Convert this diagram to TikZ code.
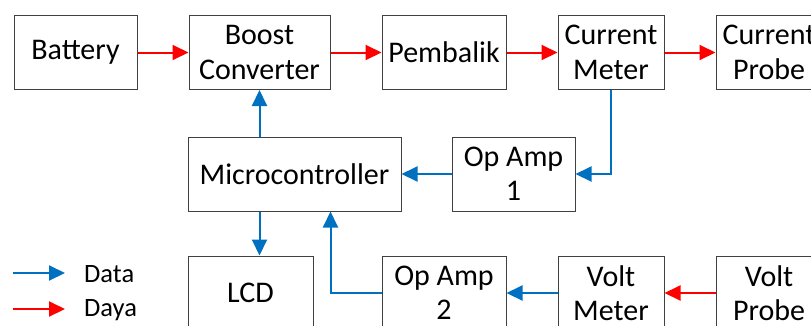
\documentclass[tikz,border=0pt]{standalone}
\usepackage{fontspec}
\setmainfont{Carlito}
\usetikzlibrary{arrows.meta,calc}
\definecolor{datablue}{RGB}{0,112,192}
\definecolor{dayared}{RGB}{255,0,0}
\definecolor{boxgray}{RGB}{64,64,64}
\tikzset{
  blk/.style={draw=boxgray, line width=1pt, fill=white, inner sep=0pt, align=center,
    minimum height=74pt, font=\fontsize{30}{34.5}\selectfont},
  data/.style={draw=datablue, line width=2pt, -{Triangle[length=16pt,width=15pt]}},
  daya/.style={draw=dayared, line width=2pt, -{Triangle[length=16pt,width=15pt]}},
  lgd/.style={inner sep=0pt, font=\fontsize{26.5}{30}\selectfont}
}
\begin{document}
\begin{tikzpicture}[x=1pt,y=-1pt]
\useasboundingbox (0,0) rectangle (811,325);
% top row
\node[blk, minimum width=123pt] (bat) at (75.5,52.5) {Battery};
\node[blk, minimum width=141pt] (boost) at (259.5,52.5) {Boost\\Converter};
\node[blk, minimum width=124pt] (pem) at (444,52.5) {Pembalik};
\node[blk, minimum width=106pt] (cm) at (611,52.5) {Current\\Meter};
\node[blk, minimum width=106pt] (cp) at (769,52.5) {Current\\Probe};
% middle row
\node[blk, minimum width=213pt] (mc) at (294.5,174) {Microcontroller};
\node[blk, minimum width=123pt] (oa1) at (513.5,174) {Op Amp\\1};
% bottom row
\node[blk, minimum width=125pt] (lcd) at (250.5,293) {LCD};
\node[blk, minimum width=124pt] (oa2) at (444,293) {Op Amp\\2};
\node[blk, minimum width=106pt] (vm) at (611,293) {Volt\\Meter};
\node[blk, minimum width=106pt] (vp) at (769,293) {Volt\\Probe};
% power arrows
\draw[daya] (bat.east) -- (boost.west);
\draw[daya] (boost.east) -- (pem.west);
\draw[daya] (pem.east) -- (cm.west);
\draw[daya] (cm.east) -- (cp.west);
\draw[daya] (vp.west) -- (vm.east);
% data arrows
\draw[data] (cm.south) |- (oa1.east);
\draw[data] (oa1.west) -- (mc.east);
\draw[data] (boost.south |- mc.north) -- (boost.south);
\draw[data] (boost.south |- mc.south) -- (boost.south |- lcd.north);
\draw[data] (oa2.west) -| (boost.east |- mc.south);
\draw[data] (vm.west) -- (oa2.east);
% legend
\coordinate (ld1) at (13,273);
\coordinate (ld2) at (65,273);
\coordinate (lp1) at (13,309);
\coordinate (lp2) at (65,309);
\draw[data] (ld1) -- (ld2);
\draw[daya] (lp1) -- (lp2);
\node[lgd, anchor=west] (tdata) at (84,274) {Data};
\node[lgd, anchor=west] (tdaya) at (84,310) {Daya};
\end{tikzpicture}
\end{document}
